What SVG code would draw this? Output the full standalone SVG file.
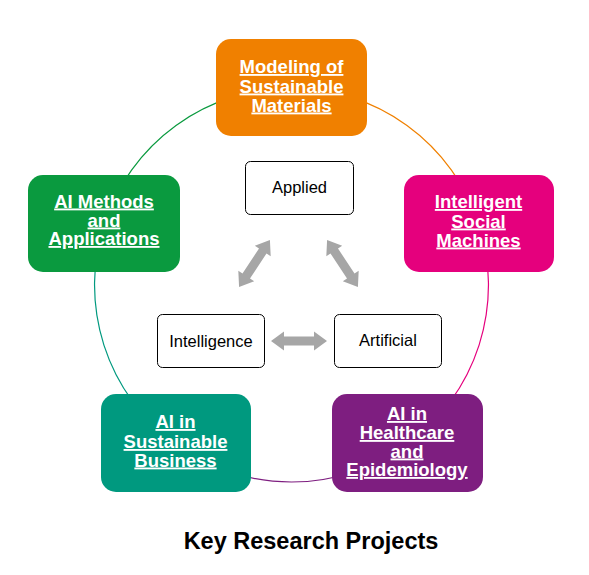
<svg xmlns="http://www.w3.org/2000/svg" width="589" height="575" viewBox="0 0 589 575">
<style>
.lbl{font-family:"Liberation Sans",Arial,sans-serif;font-weight:bold;font-size:18.5px;fill:#fff;text-anchor:middle;text-decoration:underline}
.in{font-family:"Liberation Sans",Arial,sans-serif;font-size:16.5px;fill:#000;text-anchor:middle}
.ib{fill:#fff;stroke:#000;stroke-width:1}
.arc{fill:none;stroke-width:1.2}
.title{font-family:"Liberation Sans",Arial,sans-serif;font-weight:bold;font-size:23.5px;fill:#000;text-anchor:middle}
</style>
<defs>
<polygon id="dbl" points="-28,0 -15,-9.5 -15,-4.5 15,-4.5 15,-9.5 28,0 15,9.5 15,4.5 -15,4.5 -15,9.5" fill="#A6A6A6"/>
</defs>
<rect width="589" height="575" fill="#fff"/>
<g id="connectors">
<path class="arc" stroke="#F08000" d="M 291.5 88 A 197 197 0 0 1 478.6 223.5"/>
<path class="arc" stroke="#E5007D" d="M 478.6 223.5 A 197 197 0 0 1 408.1 443.8"/>
<path class="arc" stroke="#7E1E80" d="M 408.1 443.8 A 197 197 0 0 1 174.9 443.8"/>
<path class="arc" stroke="#00997F" d="M 174.9 443.8 A 197 197 0 0 1 104.4 223.5"/>
<path class="arc" stroke="#0A9A3F" d="M 104.4 223.5 A 197 197 0 0 1 291.5 88"/>
<use href="#dbl" transform="translate(254.5 263.5) rotate(-56.6)"/>
<use href="#dbl" transform="translate(342.5 263.5) rotate(56.6)"/>
<use href="#dbl" transform="translate(299 341)"/>
</g>
<g id="modeling">
<rect x="216" y="39" width="151" height="97" rx="15" fill="#F08000"/>
<text class="lbl" x="291.5" y="73">Modeling of</text>
<text class="lbl" x="291.5" y="92.5">Sustainable</text>
<text class="lbl" x="291.5" y="111.5">Materials</text>
</g>
<g id="social">
<rect x="404" y="175" width="150" height="97" rx="15" fill="#E5007D"/>
<text class="lbl" x="478.5" y="208">Intelligent</text>
<text class="lbl" x="478.5" y="227.5">Social</text>
<text class="lbl" x="478.5" y="246.5">Machines</text>
</g>
<g id="healthcare">
<rect x="332" y="394" width="151" height="98" rx="15" fill="#7E1E80"/>
<text class="lbl" x="407" y="420">AI in</text>
<text class="lbl" x="407" y="439">Healthcare</text>
<text class="lbl" x="407" y="457.5">and</text>
<text class="lbl" x="407" y="476">Epidemiology</text>
</g>
<g id="business">
<rect x="101" y="394" width="150" height="98" rx="15" fill="#00997F"/>
<text class="lbl" x="175.5" y="428">AI in</text>
<text class="lbl" x="175.5" y="448">Sustainable</text>
<text class="lbl" x="175.5" y="466.5">Business</text>
</g>
<g id="methods">
<rect x="28" y="175" width="152" height="97" rx="15" fill="#0A9A3F"/>
<text class="lbl" x="104" y="207.5">AI Methods</text>
<text class="lbl" x="104" y="226.5">and</text>
<text class="lbl" x="104" y="245">Applications</text>
</g>
<g id="applied">
<rect class="ib" x="245.5" y="161.5" width="108" height="53" rx="5"/>
<text class="in" x="299.5" y="192.5">Applied</text>
</g>
<g id="intelligence">
<rect class="ib" x="157.5" y="314.5" width="107" height="53" rx="5"/>
<text class="in" x="211" y="346.5">Intelligence</text>
</g>
<g id="artificial">
<rect class="ib" x="334.5" y="314.5" width="107" height="53" rx="5"/>
<text class="in" x="388" y="346">Artificial</text>
</g>
<g id="title">
<text class="title" x="311" y="549">Key Research Projects</text>
</g>
</svg>
